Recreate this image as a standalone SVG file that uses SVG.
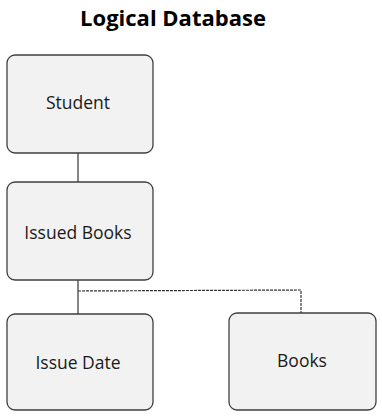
<svg xmlns="http://www.w3.org/2000/svg" width="382" height="417" viewBox="0 0 382 417">
<style>
.box{fill:#f2f2f2;stroke:#3f3f3f;stroke-width:1.3}
.lbl{font-family:"Open Sans","Liberation Sans",sans-serif;font-size:17.5px;fill:#1a1a1a;text-anchor:middle;dominant-baseline:central}
.title{font-family:"Open Sans","Liberation Sans",sans-serif;font-size:22px;font-weight:bold;fill:#000;text-anchor:middle}
.solid{stroke:#333;stroke-width:1.2;fill:none}
.dash{stroke:#333;stroke-width:1.2;fill:none;stroke-dasharray:3 1}
</style>
<rect width="382" height="417" fill="#fff"/>
<text class="title" x="173" y="26">Logical Database</text>
<g id="connectors">
<line class="solid" x1="78" y1="153" x2="78" y2="182"/>
<line class="solid" x1="78" y1="280" x2="78" y2="314"/>
<polyline class="dash" points="78,291 301,290 301,313"/>
</g>
<g id="student"><rect class="box" x="7" y="55" width="146" height="98" rx="8"/><text class="lbl" x="78" y="102">Student</text></g>
<g id="issued-books"><rect class="box" x="7" y="182" width="146" height="98" rx="8"/><text class="lbl" x="78" y="232">Issued Books</text></g>
<g id="issue-date"><rect class="box" x="7" y="314" width="146" height="96" rx="8"/><text class="lbl" x="78" y="362">Issue Date</text></g>
<g id="books"><rect class="box" x="229" y="313" width="147" height="97" rx="8"/><text class="lbl" x="302" y="360">Books</text></g>
</svg>
